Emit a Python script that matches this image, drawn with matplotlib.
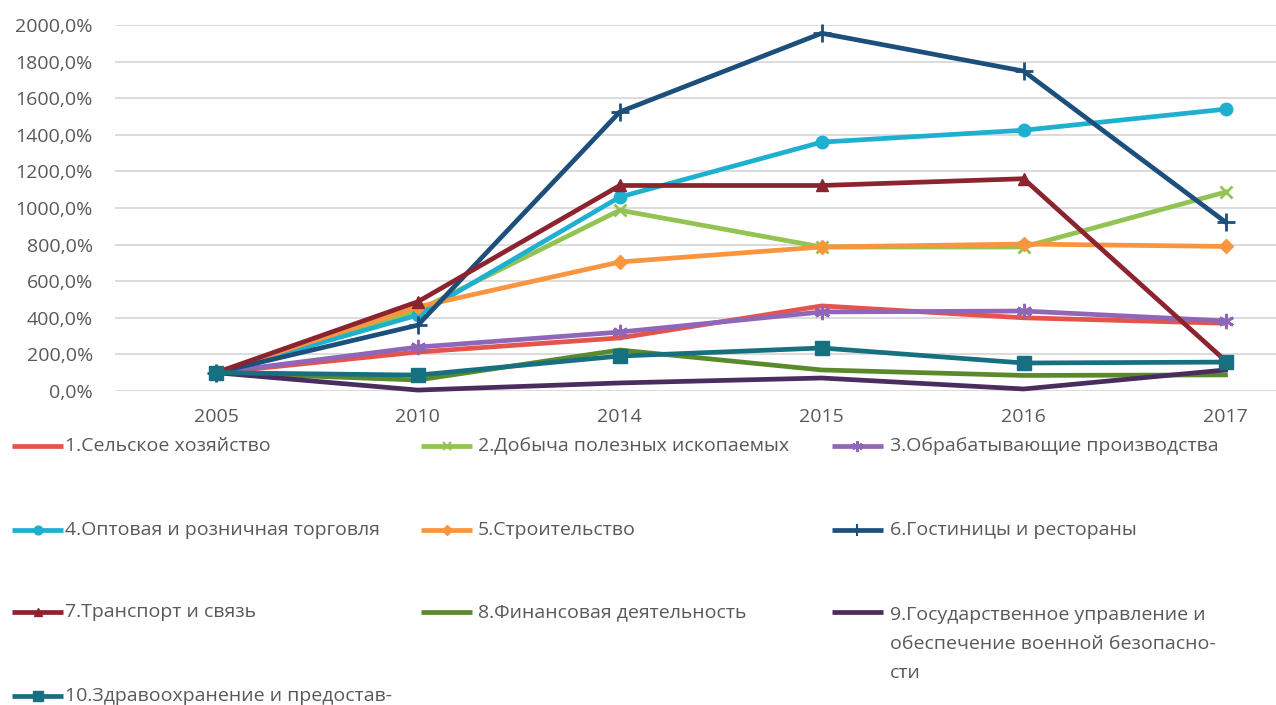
import matplotlib
matplotlib.use("Agg")
import matplotlib.pyplot as plt
from matplotlib.lines import Line2D
from matplotlib.ticker import FuncFormatter

plt.rcParams['font.family'] = ['Open Sans', 'DejaVu Sans']

years = ['2005', '2010', '2014', '2015', '2016', '2017']

s1_agri = [100, 213, 290, 465, 400, 370]
s2_mining = [100, 440, 988, 787, 787, 1087]
s3_manuf = [100, 240, 322, 432, 437, 383]
s4_trade = [100, 415, 1060, 1360, 1425, 1540]
s5_constr = [100, 460, 705, 787, 803, 790]
s6_hotels = [100, 360, 1525, 1955, 1748, 923]
s7_transport = [100, 488, 1123, 1123, 1160, 165]
s8_finance = [100, 60, 224, 115, 85, 88]
s9_gov = [100, 5, 44, 71, 11, 115]
s10_health = [100, 87, 191, 235, 153, 158]

labels = [
    '1.Сельское хозяйство',
    '2.Добыча полезных ископаемых',
    '3.Обрабатывающие производства',
    '4.Оптовая и розничная торговля',
    '5.Строительство',
    '6.Гостиницы и рестораны',
    '7.Транспорт и связь',
    '8.Финансовая деятельность',
    '9.Государственное управление и\nобеспечение военной безопасно-\nсти',
    '10.Здравоохранение и предостав-',
]
series = [s1_agri, s2_mining, s3_manuf, s4_trade, s5_constr,
          s6_hotels, s7_transport, s8_finance, s9_gov, s10_health]
colors = ['#e4544c', '#92c353', '#9066b8', '#1fb0d0', '#f9943f',
          '#1d4f7c', '#8c2430', '#5b8a2c', '#4b2c5e', '#17707f']
markers = [None, 'x', (6, 2, 0), 'o', 'D', '+', '^', None, None, 's']
msizes = [0, 9, 11, 9, 7, 13, 9, 0, 0, 10]

fig = plt.figure(figsize=(12.76, 7.05), dpi=100)
W, H = 1276.0, 705.0
ax = fig.add_axes([115 / W, 1 - 391 / H, 1 - 115 / W, (391 - 25) / H])

x = list(range(len(years)))
for i, (vals, c, m, ms) in enumerate(zip(series, colors, markers, msizes)):
    ax.plot(x, vals, color=c, lw=3.4, marker=m, markersize=ms,
            markeredgewidth=2 if m in ('x', '+', (6, 2, 0)) else 1,
            markeredgecolor=c, markerfacecolor=c, zorder=3 + i,
            clip_on=False, solid_joinstyle='round')

ax.set_ylim(0, 2000)
ax.set_xlim(-0.5, 5.25)
ax.set_yticks(range(0, 2001, 200))
ax.yaxis.set_major_formatter(FuncFormatter(lambda v, p: f"{v:.1f}%".replace('.', ',')))
ax.set_xticks(x)
ax.set_xticklabels(years)
ax.grid(axis='y', color='#d9d9d9', lw=1.3)
ax.set_axisbelow(True)
for sp in ax.spines.values():
    sp.set_visible(False)
ax.tick_params(axis='both', length=0, labelsize=14, colors='#595959')
ax.tick_params(axis='y', pad=16)
ax.tick_params(axis='x', pad=12)

# Legend (manual layout, row-wise, 3 columns)
col_handle_x = [12, 421, 832]
col_text_x = [65, 478, 890]
row_y = [446, 530, 612, 696]
for i, (lab, c, m, ms) in enumerate(zip(labels, colors, markers, msizes)):
    r, col = divmod(i, 3)
    y = 1 - row_y[r] / H
    x0 = col_handle_x[col] / W
    x1 = (col_handle_x[col] + 51) / W
    fig.add_artist(Line2D([x0, x1], [y, y], transform=fig.transFigure,
                          color=c, lw=3.4, solid_capstyle='butt'))
    if m is not None:
        fig.add_artist(Line2D([(x0 + x1) / 2], [y], transform=fig.transFigure,
                              color=c, marker=m, markersize=ms * 0.7,
                              markeredgewidth=1.5 if m in ('x', '+', (6, 2, 0)) else 1,
                              markerfacecolor=c, markeredgecolor=c, lw=0))
    if '\n' in lab:
        fig.text(col_text_x[col] / W, y + 6 / H, lab, ha='left', va='top',
                 fontsize=14, color='#595959', linespacing=1.8)
    else:
        fig.text(col_text_x[col] / W, y, lab, ha='left', va='center',
                 fontsize=14, color='#595959')

fig.savefig('out.png', dpi=100, facecolor='white')
